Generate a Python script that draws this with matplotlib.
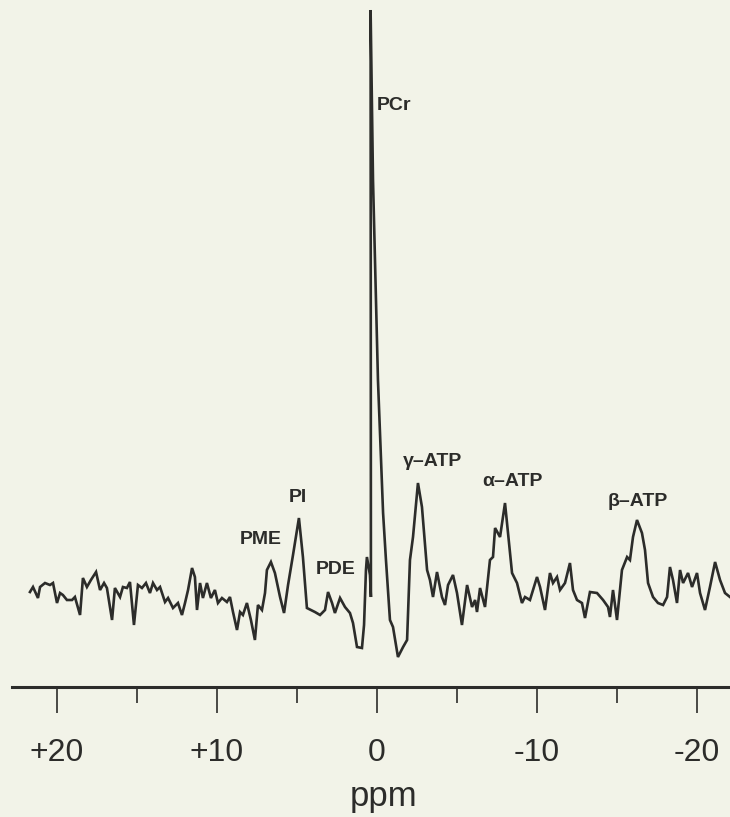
import matplotlib
matplotlib.use("Agg")
import matplotlib.pyplot as plt
from matplotlib.ticker import FixedLocator, FixedFormatter

# 31P spectrum: chemical shift (ppm) and intensity (arb. units, baseline ~0)
ppm = [21.69, 21.50, 21.19, 21.06, 20.75, 20.44, 20.25, 20.00, 19.81, 19.63,
       19.38, 19.06, 18.88, 18.56, 18.38, 18.13, 17.88, 17.56, 17.31, 17.06,
       16.88, 16.56, 16.38, 16.06, 15.88, 15.63, 15.44, 15.19, 14.94, 14.69,
       14.44, 14.19, 14.00, 13.75, 13.56, 13.25, 13.06, 12.75, 12.44, 12.19,
       12.00, 11.81, 11.56, 11.38, 11.25, 11.06, 10.88, 10.63, 10.38, 10.13,
       9.94, 9.69, 9.38, 9.19, 9.00, 8.75, 8.56, 8.38, 8.13, 7.88,
       7.63, 7.44, 7.19, 7.00, 6.88, 6.63, 6.38, 6.06, 5.81, 5.56,
       5.25, 4.88, 4.63, 4.38, 4.13, 3.88, 3.56, 3.25, 3.06, 2.81,
       2.63, 2.31, 2.00, 1.69, 1.50, 1.25, 0.94, 0.81, 0.69, 0.63,
       0.44, 0.38, 0.40,
       0.25, -0.06, -0.38, -0.56, -0.81, -1.00, -1.31, -1.63, -1.88, -2.06,
       -2.25, -2.56, -2.81, -3.13, -3.31, -3.50, -3.75, -4.06, -4.25, -4.44,
       -4.75, -5.00, -5.31, -5.63, -5.94, -6.13, -6.25, -6.44, -6.75, -7.06,
       -7.25, -7.38, -7.69, -8.00, -8.19, -8.44, -8.75, -9.06, -9.25, -9.56,
       -10.00, -10.19, -10.50, -10.81, -11.00, -11.25, -11.44, -11.75, -12.06, -12.25,
       -12.50, -12.81, -13.00, -13.31, -13.75, -14.13, -14.44, -14.56, -14.75, -15.00,
       -15.31, -15.63, -15.81, -16.00, -16.25, -16.56, -16.75, -16.94, -17.25, -17.56,
       -17.88, -18.13, -18.31, -18.50, -18.75, -18.94, -19.13, -19.44, -19.69, -20.00,
       -20.19, -20.50, -20.81, -21.13, -21.44, -21.75, -22.06]
signal = [-2, 3, -8, 3, 7, 5, 7, -13, -3, -5,
          -10, -10, -7, -25, 12, 3, 10, 18, 0, 7,
          2, -30, 2, -7, 3, 2, 8, -35, 5, 2,
          7, -3, 7, 0, 3, -12, -8, -18, -13, -25,
          -13, 0, 22, 13, -20, 7, -8, 7, -8, 0,
          -13, -8, -12, -7, -22, -40, -22, -25, -13, -30,
          -50, -15, -20, -3, 20, 28, 17, -7, -23, 5,
          35, 72, 33, -18, -20, -22, -25, -20, -2, -13,
          -23, -8, -17, -23, -33, -57, -58, -35, 20, 33,
          15, -7, 580,
          410, 210, 77, 30, -30, -37, -67, -57, -50, 30,
          53, 107, 83, 20, 10, -7, 18, -7, -15, 5,
          15, -3, -35, 5, -17, -10, -22, 2, -17, 30,
          33, 62, 53, 87, 57, 17, 7, -13, -7, -10,
          13, 3, -20, 17, 7, 13, 0, 7, 27, 0,
          -10, -13, -28, -2, -3, -10, -17, -27, 0, -30,
          20, 33, 30, 53, 70, 57, 40, 7, -7, -13,
          -15, -7, 23, 10, -13, 20, 7, 17, 3, 17,
          -3, -20, 3, 28, 10, -3, -7]

peak_names = ["PCr", "PI", "PME", "PDE", "γ–ATP", "α–ATP", "β–ATP"]
peak_x = [0.0, 4.94, 7.25, 2.56, -3.44, -8.44, -16.31]
peak_y = [485, 93, 50, 20, 128, 109, 89]
peak_ha = ["left", "center", "center", "center", "center", "center", "center"]

major_ticks = [20, 10, 0, -10, -20]
major_labels = ["+20", "+10", "0", "-10", "-20"]
minor_ticks = [15, 5, -5, -15]

ink = "#2c2c2a"
paper = "#f2f3e8"

plt.rcParams["font.family"] = ["Liberation Sans", "DejaVu Sans"]

fig = plt.figure(figsize=(7.3, 8.17), dpi=100, facecolor=paper)
ax = fig.add_axes([12 / 730, 130 / 817, 718 / 730, 687 / 817])
ax.set_facecolor(paper)

ax.plot(ppm, signal, color=ink, lw=1.9, solid_joinstyle="miter")

for name, x, y, ha in zip(peak_names, peak_x, peak_y, peak_ha):
    ax.text(x, y, name, ha=ha, va="center", fontsize=14,
            fontweight="bold", color=ink)

ax.set_xlim(22.8125, -22.0625)
ax.set_ylim(-97, 590)

for side in ["top", "left", "right"]:
    ax.spines[side].set_visible(False)
ax.spines["bottom"].set_linewidth(2.2)
ax.spines["bottom"].set_color(ink)
ax.set_yticks([])

ax.xaxis.set_major_locator(FixedLocator(major_ticks))
ax.xaxis.set_major_formatter(FixedFormatter(major_labels))
ax.xaxis.set_minor_locator(FixedLocator(minor_ticks))
ax.tick_params(axis="x", which="major", direction="out", length=19, width=1.2,
               color=ink, labelsize=23, labelcolor=ink, pad=18)
ax.tick_params(axis="x", which="minor", direction="out", length=11.5, width=1.2,
               color=ink)

ax.set_xlabel("ppm", fontsize=25, color=ink)
ax.xaxis.set_label_coords(0.518, -0.136)

fig.savefig("out.png", dpi=100, facecolor=paper)
